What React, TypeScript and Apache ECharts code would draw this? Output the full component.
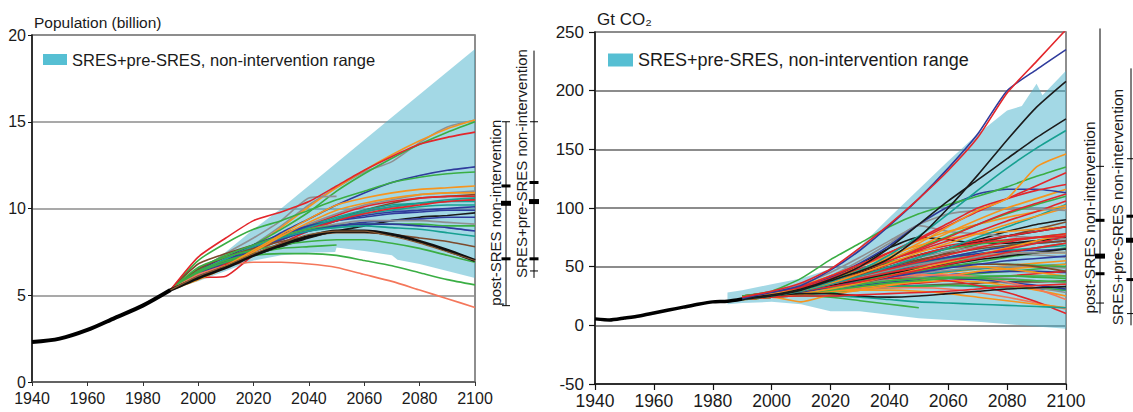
import React, { useEffect, useRef } from 'react';
import * as echarts from 'echarts';

const FONT = '"Liberation Sans", Arial, Helvetica, sans-serif';
const BAND_NAME = 'SRES+pre-SRES, non-intervention range';

const COLORS: Record<string, string> = {
  red: '#e3262b',
  blue: '#2f3b9c',
  green: '#3aae44',
  orange: '#f7941e',
  gray: '#8f9092',
  teal: '#17a091',
  black: '#1b1b1b',
  brown: '#7c4a2c',
  salmon: '#f4775b',
};

// ---------- Population panel ----------
const popTitle = 'Population (billion)';
const popYears = [1990, 2000, 2010, 2020, 2030, 2040, 2050, 2060, 2070, 2080, 2090, 2100];
const popHistYears = [1940, 1950, 1960, 1970, 1980, 1990];
const popHist = [2.3, 2.5, 3.0, 3.7, 4.4, 5.3];
const popScenarios: [string, number[]][] = [
  ['gray', [5.3, 6.1, 6.9, 7.9, 9.0, 10.2, 11.2, 12.1, 12.7, 13.8, 14.7, 15.1]],
  ['orange', [5.3, 6.0, 6.8, 7.8, 8.9, 10.1, 11.2, 12.2, 13.1, 13.9, 14.6, 15.1]],
  ['green', [5.3, 6.2, 7.0, 7.9, 8.8, 9.8, 11.0, 12.0, 12.9, 13.7, 14.4, 15.0]],
  ['gray', [5.3, 6.4, 7.4, 8.3, 9.3, 10.6, 10.7]],
  ['blue', [5.3, 6.1, 6.9, 7.7, 8.6, 9.4, 10.2, 10.9, 11.5, 11.9, 12.2, 12.4]],
  ['green', [5.3, 7.0, 8.0, 8.8, 9.3, 9.9, 10.5, 11.0, 11.5, 11.8, 12.0, 12.1]],
  ['gray', [5.3, 6.1, 6.9, 7.7, 8.4, 9.1, 9.7, 10.2, 10.5, 10.8, 10.9, 11.0]],
  ['brown', [5.3, 6.8, 7.4, 7.9, 8.4, 8.9, 9.4, 9.9, 10.3, 10.6, 10.7, 10.8]],
  ['red', [5.3, 6.2, 6.9, 7.6, 8.3, 9.0, 9.6, 10.1, 10.4, 10.6, 10.7, 10.7]],
  ['red', [5.3, 6.0, 6.1, 7.3, 8.0, 8.7, 9.3, 9.8, 10.1, 10.3, 10.4, 10.5]],
  ['teal', [5.3, 6.3, 7.0, 7.7, 8.4, 9.0, 9.5, 9.9, 10.2, 10.3, 10.4, 10.4]],
  ['teal', [5.3, 6.1, 6.8, 7.5, 8.2, 8.8, 9.3, 9.7, 9.9, 10.1, 10.2, 10.2]],
  ['blue', [5.3, 6.2, 7.0, 7.8, 8.4, 8.9, 9.3, 9.6, 9.8, 9.9, 10.0, 10.1]],
  ['blue', [5.3, 6.4, 7.2, 7.9, 8.5, 9.0, 9.3, 9.5, 9.7, 9.8, 9.9, 9.9]],
  ['teal', [5.3, 6.0, 6.8, 7.6, 8.3, 8.9, 9.4, 9.8, 10.1, 10.3, 10.5, 10.6]],
  ['red', [5.3, 6.1, 6.8, 7.5, 8.2, 8.8, 9.3, 9.7, 10.0, 10.2, 10.4, 10.5]],
  ['black', [5.3, 6.0, 6.7, 7.3, 7.8, 8.3, 8.7, 9.0, 9.3, 9.5, 9.6, 9.75]],
  ['blue', [5.3, 6.1, 6.9, 7.6, 8.2, 8.7, 9.0, 9.2, 9.3, 9.4, 9.5, 9.5]],
  ['gray', [5.3, 6.3, 7.1, 7.8, 8.4, 8.8, 9.1, 9.3, 9.3, 9.3, 9.2, 9.1]],
  ['green', [5.3, 6.5, 7.3, 7.9, 8.4, 8.8, 9.0, 9.1, 9.1, 9.1, 9.0, 9.0]],
  ['blue', [5.3, 6.2, 7.0, 7.7, 8.3, 8.7, 9.0, 9.1, 9.1, 9.0, 8.9, 8.7]],
  ['teal', [5.3, 6.3, 7.1, 7.8, 8.3, 8.7, 8.9, 9.0, 8.9, 8.8, 8.6, 8.4]],
  ['brown', [5.3, 6.5, 7.2, 7.7, 8.1, 8.4, 8.6, 8.6, 8.5, 8.3, 8.1, 7.8]],
  ['green', [5.3, 6.6, 7.2, 7.6, 7.9, 8.1, 8.2, 8.2, 8.0, 7.7, 7.3, 6.9]],
  ['green', [5.3, 6.4, 7.0, 7.4, 7.7, 7.8, 7.9]],
  ['green', [5.3, 6.3, 6.9, 7.3, 7.4, 7.4, 7.3, 7.0, 6.7, 6.3, 5.9, 5.6]],
  ['salmon', [5.3, 6.2, 6.7, 6.9, 6.9, 6.8, 6.6, 6.2, 5.8, 5.3, 4.8, 4.3]],
  ['orange', [5.3, 6.0, 6.7, 7.6, 8.5, 9.4, 10.2, 10.6, 10.9, 11.1, 11.2, 11.3]],
  ['orange', [5.3, 5.9, 6.6, 7.5, 8.4, 9.2, 9.9, 10.3, 10.6, 10.8, 10.9, 10.9]],
  ['red', [5.3, 7.2, 8.3, 9.3, 9.8, 10.4, 11.3, 12.2, 13.0, 13.7, 14.1, 14.4]],
];
const popThickBlack = [5.3, 6.0, 6.6, 7.3, 7.9, 8.4, 8.7, 8.7, 8.5, 8.1, 7.6, 7.0];
const popThickBrown = [5.3, 6.1, 6.7, 7.4, 8.0, 8.5, 8.7, 8.7, 8.4, 8.0, 7.5, 7.0];
const popBandUpperYears = [1990, 2000, 2010, 2020, 2030, 2068, 2100];
const popBandUpper = [5.3, 6.2, 7.5, 8.8, 10.0, 15.0, 19.2];
const popBandLowerYears = [1990, 2000, 2010, 2020, 2030, 2040, 2049.5, 2050, 2060, 2070, 2072, 2080, 2090, 2100];
const popBandLower = [5.3, 5.8, 6.4, 7.0, 7.3, 7.45, 7.5, 7.75, 7.55, 7.3, 7.05, 6.8, 6.4, 6.0];
// [min, thin low, q-low, median, q-high, thin high, max]
const popPostSRES = [4.4, 4.4, 7.1, 10.3, 11.3, 15.0, 15.0];
const popAllSRES = [6.0, 6.4, 7.1, 10.4, 11.5, 15.0, 19.1];

// ---------- CO2 panel ----------
const co2Title = 'Gt CO₂';
const co2Years = [1990, 2000, 2010, 2020, 2030, 2040, 2050, 2060, 2070, 2080, 2090, 2100];
const co2HistYears = [1940, 1945, 1950, 1955, 1960, 1965, 1970, 1975, 1980, 1985, 1990];
const co2Hist = [5.5, 4.5, 6.2, 8.0, 10.5, 13.0, 15.5, 18.0, 20.0, 20.5, 22.5];
const co2Scenarios: [string, number[]][] = [
  ['orange', [23, 25, 28, 31, 35, 38, 42, 45, 48, 51, 53, 55]],
  ['green', [22, 24, 27, 30, 33, 36, 39, 42, 44, 46, 48, 50]],
  ['teal', [24, 26, 29, 32, 36, 40, 43, 46, 48, 50, 51, 52]],
  ['gray', [23, 25, 28, 32, 36, 40, 44, 47, 49, 50, 50, 49]],
  ['blue', [22, 24, 26, 29, 32, 36, 40, 43, 45, 46, 46, 45]],
  ['red', [24, 26, 28, 30, 32, 34, 36, 38, 40, 42, 44, 46]],
  ['green', [23, 25, 28, 31, 34, 37, 39, 41, 42, 42, 41, 40]],
  ['orange', [24, 27, 31, 36, 41, 45, 48, 50, 50, 48, 45, 42]],
  ['brown', [23, 25, 27, 29, 31, 33, 34, 35, 36, 37, 37, 38]],
  ['teal', [24, 26, 28, 30, 32, 33, 34, 34, 33, 32, 31, 30]],
  ['green', [22, 24, 26, 28, 30, 32, 33, 34, 34, 33, 32, 30]],
  ['gray', [24, 27, 30, 34, 37, 40, 41, 41, 39, 36, 32, 28]],
  ['blue', [23, 25, 28, 31, 34, 37, 39, 40, 39, 37, 34, 31]],
  ['orange', [22, 24, 26, 29, 32, 35, 37, 38, 37, 34, 30, 25]],
  ['salmon', [24, 26, 28, 30, 31, 32, 32, 31, 28, 24, 19, 14]],
  ['red', [24, 27, 31, 35, 38, 40, 40, 38, 34, 28, 20, 10]],
  ['orange', [23, 25, 27, 29, 30, 30, 29, 27, 24, 21, 18, 15]],
  ['teal', [22, 24, 25, 25, 24, 22, 20, 19, 18, 17, 16, 15]],
  ['green', [22, 24, 25, 24, 21, 18, 15]],
  ['orange', [24, 24, 20, 26, 30, 34, 38, 42, 46, 48, 50, 52]],
  ['green', [25, 28, 32, 37, 42, 46, 49, 51, 52, 52, 51, 50]],
  ['salmon', [23, 26, 30, 34, 38, 41, 43, 43, 41, 37, 31, 22]],
  ['brown', [22, 24, 27, 31, 36, 41, 46, 50, 52, 52, 50, 46]],
  ['gray', [23, 25, 28, 31, 35, 38, 40, 41, 41, 40, 38, 36]],
  ['green', [24, 26, 29, 33, 38, 43, 48, 53, 58, 62, 66, 70]],
  ['teal', [23, 26, 30, 35, 41, 47, 53, 58, 63, 68, 72, 76]],
  ['orange', [24, 27, 32, 38, 44, 50, 55, 58, 60, 61, 62, 62]],
  ['gray', [22, 25, 29, 34, 40, 46, 51, 55, 58, 60, 60, 58]],
  ['green', [24, 27, 30, 34, 38, 42, 46, 50, 54, 58, 62, 66]],
  ['blue', [23, 26, 29, 33, 37, 41, 45, 49, 52, 55, 57, 59]],
  ['green', [23, 25, 27, 30, 33, 36, 38, 40, 41, 42, 42, 42]],
  ['green', [24, 26, 29, 32, 35, 38, 40, 41, 40, 39, 38, 37]],
  ['black', [22, 25, 29, 35, 42, 50, 58, 66, 73, 80, 86, 90]],
  ['brown', [23, 26, 30, 35, 41, 48, 55, 62, 69, 76, 82, 88]],
  ['blue', [22, 25, 28, 33, 39, 45, 52, 58, 63, 67, 70, 72]],
  ['gray', [24, 27, 32, 38, 45, 52, 58, 63, 67, 70, 72, 74]],
  ['black', [23, 26, 31, 40, 52, 66, 75, 73, 70, 70, 72, 75]],
  ['gray', [23, 27, 33, 42, 55, 70, 85, 80, 78, 76, 75, 74]],
  ['orange', [24, 27, 32, 40, 50, 60, 68, 74, 78, 80, 82, 84]],
  ['green', [23, 26, 31, 38, 46, 54, 60, 65, 69, 72, 75, 78]],
  ['teal', [22, 25, 29, 34, 40, 46, 52, 57, 61, 64, 66, 68]],
  ['blue', [24, 27, 31, 37, 43, 49, 54, 58, 61, 63, 64, 65]],
  ['black', [22, 25, 29, 34, 39, 44, 48, 52, 56, 59, 62, 65]],
  ['brown', [23, 26, 30, 36, 43, 50, 56, 61, 65, 68, 70, 72]],
  ['orange', [22, 24, 27, 31, 36, 42, 48, 54, 60, 66, 72, 78]],
  ['gray', [23, 26, 30, 35, 41, 47, 52, 56, 59, 61, 62, 62]],
  ['red', [24, 26, 29, 33, 37, 42, 47, 52, 57, 62, 66, 70]],
  ['black', [24, 27, 32, 38, 45, 53, 60, 66, 71, 76, 80, 84]],
  ['red', [23, 26, 30, 35, 40, 45, 50, 55, 60, 65, 70, 76]],
  ['red', [24, 27, 31, 36, 42, 48, 54, 60, 66, 71, 75, 78]],
  ['red', [23, 26, 30, 36, 44, 52, 60, 66, 70, 73, 75, 76]],
  ['red', [25, 28, 33, 40, 48, 56, 63, 68, 72, 76, 80, 84]],
  ['black', [22, 25, 27, 27, 25, 24, 25, 27, 29, 31, 32, 33]],
  ['red', [22, 24, 25, 25, 26, 27, 28, 29, 31, 33, 34, 35]],
  ['teal', [22, 25, 29, 35, 42, 50, 58, 66, 75, 84, 93, 103]],
  ['orange', [23, 26, 30, 36, 44, 53, 62, 70, 78, 86, 93, 100]],
  ['orange', [24, 28, 34, 42, 52, 62, 72, 80, 86, 92, 97, 102]],
  ['red', [25, 28, 33, 40, 48, 56, 64, 72, 80, 89, 97, 106]],
  ['gray', [24, 28, 35, 45, 58, 72, 86, 95, 98, 99, 99, 98]],
  ['green', [24, 27, 32, 39, 47, 56, 66, 76, 86, 95, 103, 110]],
  ['orange', [22, 25, 30, 37, 46, 56, 67, 79, 90, 100, 108, 116]],
  ['red', [24, 27, 32, 38, 46, 55, 65, 75, 86, 96, 104, 112]],
  ['blue', [23, 27, 32, 41, 53, 68, 86, 101, 112, 116, 116, 113]],
  ['red', [23, 26, 32, 40, 50, 62, 74, 87, 100, 108, 115, 120]],
  ['red', [24, 27, 33, 42, 52, 62, 73, 85, 97, 108, 119, 130]],
  ['green', [25, 29, 40, 56, 70, 84, 95, 103, 110, 118, 127, 135]],
  ['orange', [24, 27, 31, 38, 47, 58, 70, 84, 98, 108, 135, 146]],
  ['teal', [22, 25, 30, 37, 47, 60, 76, 95, 115, 134, 151, 166]],
  ['black', [23, 26, 31, 39, 50, 66, 86, 106, 124, 142, 160, 176]],
  ['black', [22, 25, 30, 38, 46, 57, 75, 100, 128, 158, 186, 208]],
  ['blue', [23, 28, 34, 47, 64, 85, 108, 134, 163, 200, 218, 235]],
  ['red', [24, 29, 36, 48, 66, 86, 108, 132, 160, 198, 225, 252]],
];
const co2BandUpperYears = [1985, 1990, 2000, 2010, 2020, 2030, 2040, 2050, 2060, 2070, 2080, 2085, 2090, 2092, 2100];
const co2BandUpper = [28, 30, 35, 40, 48, 67, 92, 116, 140, 163, 183, 187, 206, 196, 217];
const co2BandLowerYears = [1985, 1990, 2000, 2010, 2015, 2020, 2030, 2040, 2050, 2070, 2090, 2100];
const co2BandLower = [18, 19, 20, 18, 15, 12, 12, 9, 6, 3, -1, -3];
const co2PostSRES = [10, 19, 44, 59, 89.5, 135.5, 253];
const co2AllSRES = [0, 10, 39, 72.5, 93, 142, 219];

function scenarioSeries(list: [string, number[]][], years: number[], axis: number, width: number) {
  return list.map(([c, vals]) => ({
    type: 'line',
    xAxisIndex: axis,
    yAxisIndex: axis,
    data: vals.map((v, i) => [years[i], v]),
    showSymbol: false,
    symbol: 'none',
    smooth: 0.2,
    silent: true,
    z: 3,
    lineStyle: { color: COLORS[c], width },
    itemStyle: { color: COLORS[c] },
  }));
}

function bandSeries(axis: number, ux: number[], uy: number[], lx: number[], ly: number[]) {
  return {
    type: 'custom',
    name: BAND_NAME,
    xAxisIndex: axis,
    yAxisIndex: axis,
    coordinateSystem: 'cartesian2d',
    clip: true,
    silent: true,
    z: 1,
    itemStyle: { color: '#56bfd3' },
    data: [[ux[0], uy[0]]],
    renderItem: (_p: any, api: any) => {
      const pts: number[][] = [];
      ux.forEach((x, i) => pts.push(api.coord([x, uy[i]])));
      for (let i = lx.length - 1; i >= 0; i--) pts.push(api.coord([lx[i], ly[i]]));
      return {
        type: 'polygon',
        shape: { points: pts },
        style: { fill: 'rgba(72,178,204,0.5)', stroke: 'none' },
      };
    },
  };
}

function rangeSeries(axis: number, stats: number[], label: string, dx: number, tx: number, fontSize: number) {
  return {
    type: 'custom',
    xAxisIndex: axis,
    yAxisIndex: axis,
    coordinateSystem: 'cartesian2d',
    clip: false,
    silent: true,
    z: 5,
    data: [[2100, ...stats]],
    encode: { x: 0, y: 1 },
    renderItem: (_p: any, api: any) => {
      const x0 = api.coord([2100, 0])[0] + dx;
      const y = (v: number) => api.coord([2100, v])[1];
      const mn = api.value(1), tl = api.value(2), ql = api.value(3), md = api.value(4);
      const qh = api.value(5), th = api.value(6), mx = api.value(7);
      const children: any[] = [];
      children.push({ type: 'line', shape: { x1: x0, y1: y(mn), x2: x0, y2: y(mx) }, style: { stroke: '#000', lineWidth: 1 } });
      [tl, th].forEach((v) => children.push({ type: 'line', shape: { x1: x0 - 4, y1: y(v), x2: x0 + 4, y2: y(v) }, style: { stroke: '#000', lineWidth: 1 } }));
      [ql, qh].forEach((v) => children.push({ type: 'rect', shape: { x: x0 - 4.5, y: y(v) - 1.5, width: 9, height: 3 }, style: { fill: '#000' } }));
      children.push({ type: 'rect', shape: { x: x0 - 5, y: y(md) - 2.5, width: 10, height: 5 }, style: { fill: '#000' } });
      children.push({
        type: 'text',
        x: x0 + tx,
        y: y(mn),
        rotation: Math.PI / 2,
        style: { text: label, fill: '#1a1a1a', fontSize, fontFamily: FONT, align: 'left', verticalAlign: 'middle', textAlign: 'left', textVerticalAlign: 'middle' },
      });
      return { type: 'group', children };
    },
  };
}

// Panel titles drawn at the top-left corner of each plot area, anchored through the axes.
function titleSeries(axis: number, text: string, yMax: number, fontSize: number, gap: number) {
  return {
    type: 'custom',
    xAxisIndex: axis,
    yAxisIndex: axis,
    coordinateSystem: 'cartesian2d',
    clip: false,
    silent: true,
    z: 5,
    data: [[1940, yMax]],
    renderItem: (_p: any, api: any) => {
      const p = api.coord([api.value(0), api.value(1)]);
      return {
        type: 'text',
        x: p[0] + 2,
        y: p[1] - gap,
        style: { text, fill: '#1a1a1a', fontSize, fontFamily: FONT, align: 'left', verticalAlign: 'bottom', textAlign: 'left', textVerticalAlign: 'bottom' },
      };
    },
  };
}

function buildOption() {
  const axisLabel = (fs: number, margin: number) => ({
    fontSize: fs, color: '#1a1a1a', fontFamily: FONT, margin,
    formatter: (v: number) => String(v),
  });
  return {
    animation: false,
    textStyle: { fontFamily: FONT },
    legend: [
      {
        left: 43, top: 51, padding: 0, itemWidth: 24, itemHeight: 11, selectedMode: false,
        textStyle: { fontSize: 16.5, color: '#1a1a1a', fontFamily: FONT },
        data: [{ name: BAND_NAME, icon: 'rect', itemStyle: { color: '#56bfd3', borderWidth: 0 } }],
      },
      {
        left: 608, top: 51, padding: 0, itemWidth: 25, itemHeight: 13, selectedMode: false,
        textStyle: { fontSize: 18, color: '#1a1a1a', fontFamily: FONT },
        data: [{ name: BAND_NAME, icon: 'rect', itemStyle: { color: '#56bfd3', borderWidth: 0 } }],
      },
    ],
    grid: [
      { left: 32, top: 35, width: 443, height: 347, show: true, borderColor: '#6a6a6a', borderWidth: 1.5, backgroundColor: 'transparent' },
      { left: 595, top: 32, width: 471, height: 352, show: true, borderColor: '#6a6a6a', borderWidth: 1.5, backgroundColor: 'transparent' },
    ],
    xAxis: [
      {
        gridIndex: 0, type: 'value', min: 1940, max: 2100, interval: 20,
        axisLine: { show: true, onZero: false, lineStyle: { color: '#555', width: 1.5 } },
        axisTick: { show: true, length: 4, lineStyle: { color: '#333', width: 1 } },
        axisLabel: axisLabel(16, 8), splitLine: { show: false },
      },
      {
        gridIndex: 1, type: 'value', min: 1940, max: 2100, interval: 20,
        axisLine: { show: true, onZero: false, lineStyle: { color: '#111', width: 1.5 } },
        axisTick: { show: true, length: 6, lineStyle: { color: '#111', width: 1.2 } },
        axisLabel: axisLabel(17.5, 8), splitLine: { show: false },
      },
    ],
    yAxis: [
      {
        gridIndex: 0, type: 'value', min: 0, max: 20, interval: 5,
        axisLine: { show: true, onZero: false, lineStyle: { color: '#111', width: 1.5 } },
        axisTick: { show: true, length: 4, lineStyle: { color: '#111', width: 1 } },
        axisLabel: axisLabel(16, 6), splitLine: { show: true, lineStyle: { color: '#8c8c8c', width: 1.7 } },
      },
      {
        gridIndex: 1, type: 'value', min: -50, max: 250, interval: 50,
        axisLine: { show: true, onZero: false, lineStyle: { color: '#111', width: 1.5 } },
        axisTick: { show: true, length: 6, lineStyle: { color: '#111', width: 1.2 } },
        axisLabel: axisLabel(17, 11), splitLine: { show: true, lineStyle: { color: '#8c8c8c', width: 2 } },
      },
    ],
    series: [
      bandSeries(0, popBandUpperYears, popBandUpper, popBandLowerYears, popBandLower),
      bandSeries(1, co2BandUpperYears, co2BandUpper, co2BandLowerYears, co2BandLower),
      ...scenarioSeries(popScenarios, popYears, 0, 1.6),
      {
        type: 'line', xAxisIndex: 0, yAxisIndex: 0, showSymbol: false, symbol: 'none', smooth: 0.2, silent: true, z: 3,
        data: popThickBlack.map((v, i) => [popYears[i], v]), lineStyle: { color: '#111', width: 3.2 },
      },
      {
        type: 'line', xAxisIndex: 0, yAxisIndex: 0, showSymbol: false, symbol: 'none', smooth: 0.2, silent: true, z: 3,
        data: popThickBrown.map((v, i) => [popYears[i], v]), lineStyle: { color: '#8a5a33', width: 1.2 },
      },
      ...scenarioSeries(co2Scenarios, co2Years, 1, 1.6),
      {
        type: 'line', xAxisIndex: 0, yAxisIndex: 0, showSymbol: false, symbol: 'none', smooth: 0.3, silent: true, z: 4,
        data: popHist.map((v, i) => [popHistYears[i], v]), lineStyle: { color: '#000', width: 4 },
      },
      {
        type: 'line', xAxisIndex: 1, yAxisIndex: 1, showSymbol: false, symbol: 'none', smooth: 0.2, silent: true, z: 4,
        data: co2Hist.map((v, i) => [co2HistYears[i], v]), lineStyle: { color: '#000', width: 3.5 },
      },
      rangeSeries(0, popPostSRES, 'post-SRES non-intervention', 31, -11, 15),
      rangeSeries(0, popAllSRES, 'SRES+pre-SRES non-intervention', 59, -13, 15),
      rangeSeries(1, co2PostSRES, 'post-SRES non-intervention', 34, -11, 15.5),
      rangeSeries(1, co2AllSRES, 'SRES+pre-SRES non-intervention', 65, -14, 15.5),
      titleSeries(0, popTitle, 20, 15.5, 5),
      titleSeries(1, co2Title, 250, 17, 4),
    ],
  };
}

export default function App() {
  const ref = useRef<HTMLDivElement>(null);
  useEffect(() => {
    document.body.style.margin = '0';
    const chart = echarts.init(ref.current as HTMLDivElement, null, { renderer: 'svg' });
    chart.setOption(buildOption() as any);
    return () => chart.dispose();
  }, []);
  return <div ref={ref} style={{ width: 1133, height: 412, background: '#fff' }} />;
}
